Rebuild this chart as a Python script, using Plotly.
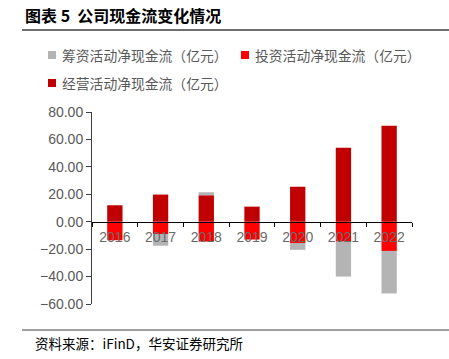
import plotly.graph_objects as go

years = ["2016", "2017", "2018", "2019", "2020", "2021", "2022"]
operating = [12.0, 19.8, 19.3, 11.0, 25.5, 54.0, 70.0]      # 经营活动净现金流
investing = [-13.5, -9.0, -14.5, -13.0, -15.5, -14.5, -21.3]  # 投资活动净现金流
financing = [0.0, -8.5, 2.2, 0.0, -5.0, -25.5, -31.0]         # 筹资活动净现金流

names = ["筹资活动净现金流（亿元）", "投资活动净现金流（亿元）", "经营活动净现金流（亿元）"]
colors = {"fin": "#B4B4B4", "inv": "#FF0000", "op": "#C00000"}

W, H = 449, 359
L, R, T, B = 92, 37, 112, 55
pw, ph = W - L - R, H - T - B

def px(x):
    return (x - L) / pw

def py(y):
    return (H - B - y) / ph

cjk = "Noto Sans CJK SC"
num = "Liberation Sans, Arial"

fig = go.Figure()
fig.add_bar(x=years, y=operating, name=names[2], marker=dict(color=colors["op"], line=dict(width=0)))
fig.add_bar(x=years, y=investing, name=names[1], marker=dict(color=colors["inv"], line=dict(width=0)))
fig.add_bar(x=years, y=financing, name=names[0], marker=dict(color=colors["fin"], line=dict(width=0)))

fig.update_layout(
    width=W, height=H,
    margin=dict(l=L, r=R, t=T, b=B),
    barmode="relative", bargap=0.665,
    showlegend=False,
    plot_bgcolor="white", paper_bgcolor="white",
    font=dict(family=num, size=14, color="#595959"),
)
fig.update_xaxes(
    type="category", showline=True, linecolor="#000000", linewidth=1,
    ticks="outside", ticklen=4, tickcolor="#000000", tickson="boundaries",
    anchor="free", position=60 / 140, showgrid=False, zeroline=False,
    tickfont=dict(family=num, size=14, color="#6a6a6a"), ticklabelstandoff=2,
)
fig.update_yaxes(
    range=[-60, 80], dtick=20, tick0=0, tickformat=".2f",
    showline=True, linecolor="#404040", linewidth=1,
    ticks="outside", ticklen=5, tickcolor="#404040",
    showgrid=False, zeroline=False,
    tickfont=dict(family=num, size=14, color="#595959"),
)

shapes = []
annotations = []
# title and rules
annotations.append(dict(text="<b>图表 5  公司现金流变化情况</b>", x=px(23), y=py(15), xref="paper", yref="paper",
                        xanchor="left", yanchor="middle", showarrow=False,
                        font=dict(family=cjk, size=16, color="#000000")))
shapes.append(dict(type="line", xref="paper", yref="paper", x0=px(22), x1=px(449), y0=py(30), y1=py(30),
                   line=dict(color="#404040", width=1.5)))
shapes.append(dict(type="line", xref="paper", yref="paper", x0=px(22), x1=px(449), y0=py(330), y1=py(330),
                   line=dict(color="#404040", width=1)))
annotations.append(dict(text="资料来源：iFinD，华安证券研究所", x=px(33), y=py(343), xref="paper", yref="paper",
                        xanchor="left", yanchor="middle", showarrow=False,
                        font=dict(family=cjk, size=13.5, color="#000000")))
# legend
legend_items = [(names[0], colors["fin"], 48, 55), (names[1], colors["inv"], 241, 55), (names[2], colors["op"], 48, 83)]
for name, col, x0, yc in legend_items:
    shapes.append(dict(type="rect", xref="paper", yref="paper", x0=px(x0), x1=px(x0 + 8),
                       y0=py(yc + 4), y1=py(yc - 4), fillcolor=col, line=dict(width=0)))
    annotations.append(dict(text=name, x=px(x0 + 12), y=py(yc), xref="paper", yref="paper",
                            xanchor="left", yanchor="middle", showarrow=False,
                            font=dict(family=cjk, size=13.8, color="#595959")))
fig.update_layout(shapes=shapes, annotations=annotations)

fig.write_html("out.html", config={"displayModeBar": False},
               post_script="document.body.style.margin='0';document.body.style.overflow='hidden';")
